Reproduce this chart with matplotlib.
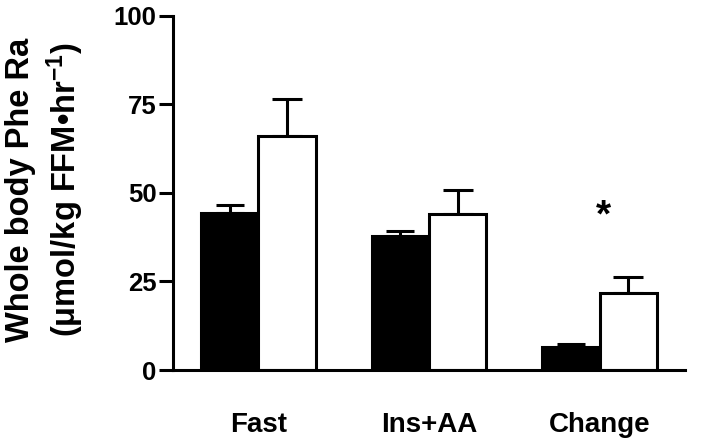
import matplotlib
matplotlib.use('Agg')
import matplotlib.pyplot as plt
import numpy as np

# data
groups = ['Fast', 'Ins+AA', 'Change']
black_means = [44.4, 37.9, 6.6]
black_err = [2.1, 1.4, 0.8]
white_means = [65.9, 44.0, 21.6]
white_err = [10.5, 6.8, 4.6]
star_group = 2
star_y = 40.5

plt.rcParams['font.family'] = ['Liberation Sans', 'DejaVu Sans']
plt.rcParams['font.weight'] = 'bold'
plt.rcParams['mathtext.fontset'] = 'custom'
plt.rcParams['mathtext.rm'] = 'Liberation Sans:bold'
plt.rcParams['mathtext.bf'] = 'Liberation Sans:bold'
plt.rcParams['mathtext.default'] = 'bf'

fig = plt.figure(figsize=(7.14, 4.46), dpi=100)
ax = fig.add_axes([0.2423, 0.1704, 0.7171, 0.7948])

x = np.arange(len(groups))
w = 0.336
lw = 2.2

ax.bar(x - w / 2, black_means, w, color='black', edgecolor='black', linewidth=lw, zorder=2)
ax.bar(x + w / 2, white_means, w, color='white', edgecolor='black', linewidth=lw, zorder=2)
ax.errorbar(x - w / 2, black_means, yerr=[np.zeros(3), black_err], fmt='none',
            ecolor='black', elinewidth=lw, capsize=10, capthick=lw, zorder=1)
ax.errorbar(x + w / 2, white_means, yerr=[np.zeros(3), white_err], fmt='none',
            ecolor='black', elinewidth=lw, capsize=11, capthick=lw, zorder=1)

# significance mark
ax.text(x[star_group] + 0.02, star_y, '*', ha='center', va='baseline', fontsize=28, fontweight='bold')

ax.set_xlim(-0.5, 2.5)
ax.set_ylim(0, 100)
ax.set_yticks([0, 25, 50, 75, 100])
ax.set_xticks(x)
ax.set_xticklabels(groups, fontsize=20, fontweight='bold')
ax.tick_params(axis='x', length=0, pad=30)
ax.tick_params(axis='y', length=10, width=lw, labelsize=18.5, pad=2)
for lab in ax.get_yticklabels():
    lab.set_fontweight('bold')

for s in ['top', 'right']:
    ax.spines[s].set_visible(False)
for s in ['left', 'bottom']:
    ax.spines[s].set_linewidth(lw)

fig.text(0.064, 0.575, 'Whole body Phe Ra\n(μmol/kg FFM•hr$^{-1}$)', rotation=90,
         ha='center', va='center', multialignment='center', fontsize=23.5,
         fontweight='bold', linespacing=1.25)

fig.savefig('out.png', dpi=100)
